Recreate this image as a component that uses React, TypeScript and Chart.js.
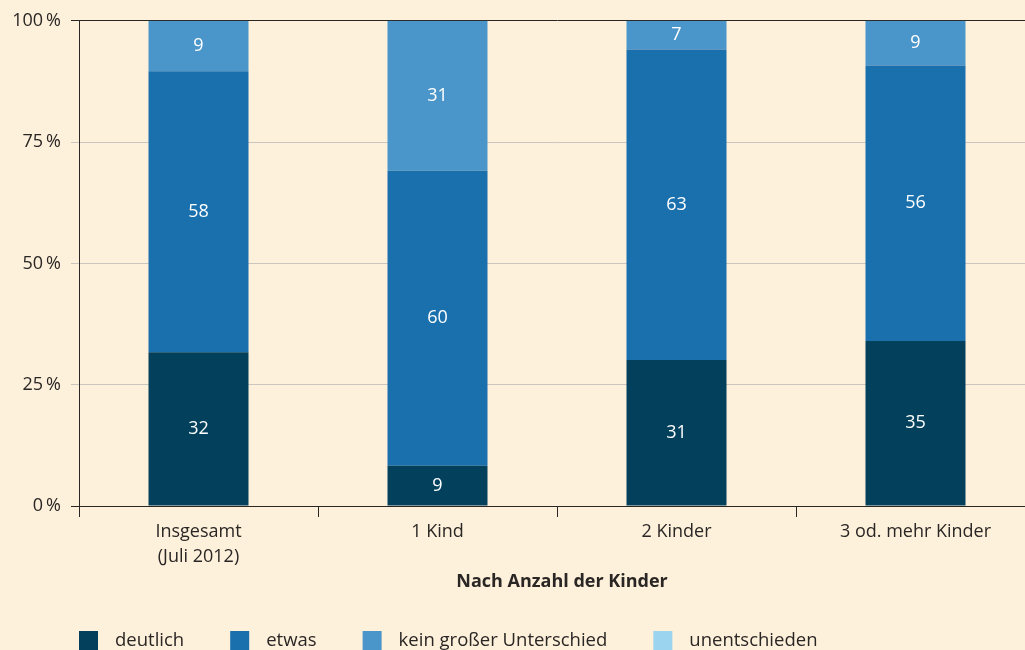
import React, { useEffect, useRef } from "react";
import { Chart, registerables } from "chart.js";

Chart.register(...registerables);

const categories: string[][] = [["Insgesamt", "(Juli 2012)"], ["1 Kind"], ["2 Kinder"], ["3 od. mehr Kinder"]];
const seriesNames = ["deutlich", "etwas", "kein großer Unterschied", "unentschieden"];
const deutlich = [31.7, 8.3, 30.1, 34.0];
const etwas = [57.9, 60.8, 64.0, 56.8];
const keinGrosser = [10.4, 30.9, 5.9, 9.2];
const unentschieden = [0, 0, 0, 0];
const deutlichLabels = ["32", "9", "31", "35"];
const etwasLabels = ["58", "60", "63", "56"];
const keinLabels = ["9", "31", "7", "9"];
const unentschiedenLabels = ["", "", "", ""];
const yTicks = [0, 25, 50, 75, 100];
const axisTitle = "Nach Anzahl der Kinder";

const colors = ["#02405c", "#1a6fad", "#4a95c9", "#9ad4ee"];
const BG = "#fef1dc";
const TEXT = "#2a2624";
const FONT = "'Open Sans'";

export default function App() {
  const ref = useRef<HTMLCanvasElement | null>(null);
  useEffect(() => {
    if (!ref.current) return;
    const labelSets = [deutlichLabels, etwasLabels, keinLabels, unentschiedenLabels];
    const valueLabelPlugin = {
      id: "valueLabels",
      afterDatasetsDraw(chart: any) {
        const ctx = chart.ctx;
        ctx.save();
        ctx.fillStyle = "#ffffff";
        ctx.font = `18px ${FONT}`;
        ctx.textAlign = "center";
        ctx.textBaseline = "middle";
        chart.data.datasets.forEach((ds: any, di: number) => {
          const meta = chart.getDatasetMeta(di);
          meta.data.forEach((el: any, i: number) => {
            const t = labelSets[di][i];
            if (!t) return;
            ctx.fillText(t, el.x, (el.y + el.base) / 2);
          });
        });
        ctx.restore();
      },
    };
    const extrasPlugin = {
      id: "extras",
      beforeDraw(chart: any) {
        const ctx = chart.ctx;
        ctx.save();
        ctx.fillStyle = BG;
        ctx.fillRect(0, 0, chart.width, chart.height);
        ctx.restore();
      },
      afterDraw(chart: any) {
        const ctx = chart.ctx;
        const area = chart.chartArea;
        ctx.save();
        ctx.fillStyle = TEXT;
        ctx.font = `bold 18px ${FONT}`;
        ctx.textAlign = "center";
        ctx.textBaseline = "middle";
        ctx.fillText(axisTitle, 562, area.bottom + 76);
        // legend
        ctx.font = `18.5px ${FONT}`;
        ctx.textAlign = "left";
        let x = area.left;
        const top = area.bottom + 125;
        chart.data.datasets.forEach((ds: any) => {
          ctx.fillStyle = ds.backgroundColor;
          ctx.fillRect(x, top, 19, 19);
          ctx.fillStyle = TEXT;
          ctx.fillText(ds.label, x + 36, top + 10);
          x += 36 + ctx.measureText(ds.label).width + 46;
        });
        ctx.restore();
      },
    };
    const datasets = [deutlich, etwas, keinGrosser, unentschieden].map((d, i) => ({
      label: seriesNames[i],
      data: d,
      backgroundColor: colors[i],
      borderWidth: 0,
      barPercentage: 1,
      categoryPercentage: 100 / 239,
    }));
    const chart = new Chart(ref.current, {
      type: "bar",
      data: { labels: categories, datasets },
      options: {
        responsive: false,
        animation: false,
        layout: { padding: { top: 19, left: 0, right: 1, bottom: 0 } },
        plugins: { legend: { display: false }, tooltip: { enabled: false } },
        scales: {
          x: {
            stacked: true,
            afterFit(scale: any) {
              scale.height = 144;
            },
            grid: { display: true, drawOnChartArea: false, drawTicks: true, tickLength: 11, color: TEXT, offset: true },
            border: { display: true, color: TEXT },
            ticks: { color: TEXT, font: { family: "Open Sans", size: 18, lineHeight: 1.4 }, padding: 2, maxRotation: 0 },
          },
          y: {
            stacked: true,
            min: 0,
            max: 100,
            afterFit(scale: any) {
              scale.width = 79;
            },
            afterBuildTicks(scale: any) {
              scale.ticks = yTicks.map((v) => ({ value: v }));
            },
            grid: {
              color: (c: any) => (c.tick && (c.tick.value === 0 || c.tick.value === 100) ? TEXT : "#c9c6c0"),
              tickLength: 8,
            },
            border: { display: true, color: TEXT },
            ticks: {
              color: TEXT,
              font: { family: "Open Sans", size: 18 },
              padding: 10,
              callback: (v: any) => `${v}\u2009%`,
            },
          },
        },
      },
      plugins: [valueLabelPlugin, extrasPlugin],
    });
    return () => chart.destroy();
  }, []);
  return (
    <div style={{ position: "fixed", left: 0, top: 0, width: 1025, height: 650, overflow: "hidden", background: BG }}>
      <canvas ref={ref} width={1036} height={650} style={{ display: "block" }} />
    </div>
  );
}
